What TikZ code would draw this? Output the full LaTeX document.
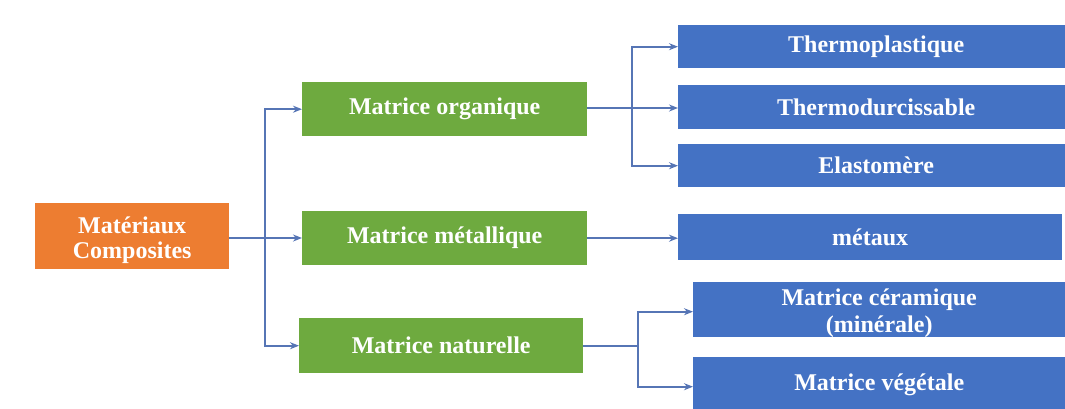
\documentclass[tikz,border=0pt]{standalone}
\usepackage{fontspec}
\setmainfont{Liberation Serif}
\usetikzlibrary{arrows.meta}
\definecolor{orangebox}{HTML}{ED7D31}
\definecolor{greenbox}{HTML}{6EAA3F}
\definecolor{bluebox}{HTML}{4472C4}
\definecolor{linkcol}{HTML}{5675B5}
% two centred lines, lowered a little inside their box
\newcommand{\twolines}[3]{\raisebox{-4pt}[\height][\depth]{\begin{tabular}{@{}c@{}}#1\\[#3]#2\end{tabular}}}
\begin{document}
\begin{tikzpicture}[x=1pt,y=-1pt,
  box/.style={rectangle, anchor=north west, inner sep=0pt, align=center,
    text=white, font=\fontsize{24}{27}\selectfont\bfseries},
  rootbox/.style={box, fill=orangebox},
  midbox/.style={box, fill=greenbox},
  leafbox/.style={box, fill=bluebox},
  link/.style={draw=linkcol, line width=1.8pt},
  arr/.style={link, -{Stealth[length=9pt,width=7pt]}}]
\useasboundingbox (0,0) rectangle (1065,408);

% root
\node[rootbox, minimum width=194pt, minimum height=66pt] (root) at (35,203) {\twolines{Matériaux}{Composites}{-2pt}};

% second level
\node[midbox, minimum width=285pt, minimum height=54pt] (org) at (302,82) {Matrice organique};
\node[midbox, minimum width=285pt, minimum height=54pt] (met) at (302,211) {Matrice métallique};
\node[midbox, minimum width=284pt, minimum height=55pt] (nat) at (299,318) {Matrice naturelle};

% third level
\node[leafbox, minimum width=396pt, minimum height=43pt] (thp) at (678,25) {Thermoplastique};
\node[leafbox, minimum width=396pt, minimum height=44pt] (thd) at (678,85) {Thermodurcissable};
\node[leafbox, minimum width=396pt, minimum height=43pt] (ela) at (678,144) {Elastomère};
\node[leafbox, minimum width=384pt, minimum height=46pt] (mtx) at (678,214) {métaux};
\node[leafbox, minimum width=372pt, minimum height=55pt] (cer) at (693,282) {\twolines{Matrice céramique}{(minérale)}{0pt}};
\node[leafbox, minimum width=372pt, minimum height=55pt] (veg) at (693,357) {Matrice végétale};

% junction points
\coordinate (j1) at (265,238);
\coordinate (j2) at (632,108);
\coordinate (j3) at (638,346);

% connectors
\draw[link] (root.east |- j1) -- (j1);
\draw[arr] (j1) |- (org.west);
\draw[arr] (j1) -- (met.west |- j1);
\draw[arr] (j1) |- (nat.west);

\draw[link] (org.east |- j2) -- (j2);
\draw[arr] (j2) |- (thp.west);
\draw[arr] (j2) -- (thd.west |- j2);
\draw[arr] (j2) |- (ela.west);

\draw[arr] (met.east) -- (mtx.west |- met.east);

\draw[link] (nat.east |- j3) -- (j3);
\draw[arr] (j3) |- ([yshift=-2pt]cer.west);
\draw[arr] (j3) |- ([yshift=-2pt]veg.west);
\end{tikzpicture}
\end{document}
